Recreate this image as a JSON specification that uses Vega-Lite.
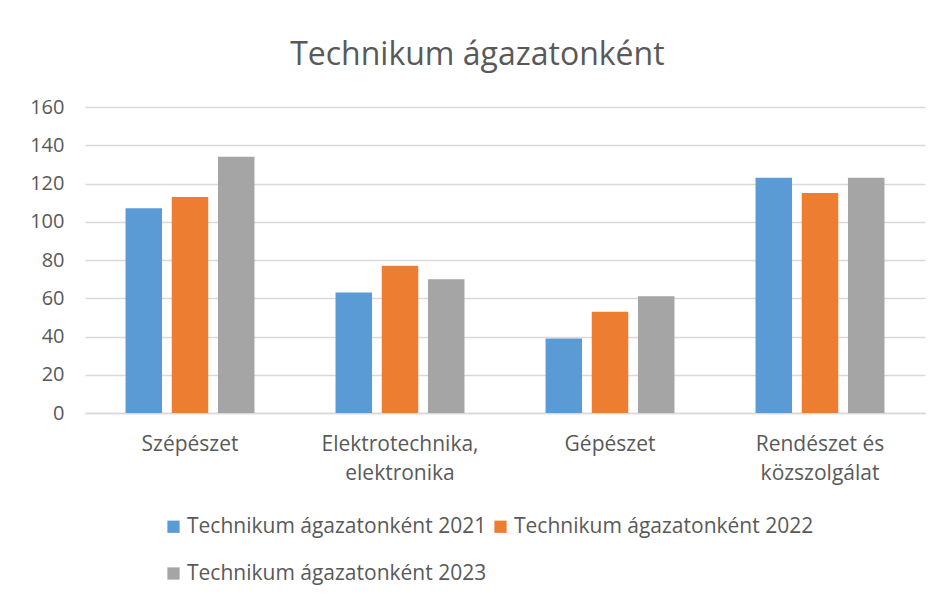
{
  "$schema": "https://vega.github.io/schema/vega-lite/v6.json",
  "autosize": "none",
  "width": 840,
  "height": 306,
  "padding": {"left": 85, "top": 107, "right": 19, "bottom": 187},
  "background": "white",
  "title": {
    "text": "Technikum ágazatonként",
    "fontSize": 32,
    "font": "Open Sans",
    "fontWeight": "normal",
    "color": "#595959",
    "anchor": "middle",
    "frame": "bounds",
    "offset": 25
  },
  "data": {
    "values": [
      {"cat": "Szépészet", "series": "Technikum ágazatonként 2021", "value": 107},
      {"cat": "Szépészet", "series": "Technikum ágazatonként 2022", "value": 113},
      {"cat": "Szépészet", "series": "Technikum ágazatonként 2023", "value": 134},
      {"cat": "Elektrotechnika, elektronika", "series": "Technikum ágazatonként 2021", "value": 63},
      {"cat": "Elektrotechnika, elektronika", "series": "Technikum ágazatonként 2022", "value": 77},
      {"cat": "Elektrotechnika, elektronika", "series": "Technikum ágazatonként 2023", "value": 70},
      {"cat": "Gépészet", "series": "Technikum ágazatonként 2021", "value": 39},
      {"cat": "Gépészet", "series": "Technikum ágazatonként 2022", "value": 53},
      {"cat": "Gépészet", "series": "Technikum ágazatonként 2023", "value": 61},
      {"cat": "Rendészet és közszolgálat", "series": "Technikum ágazatonként 2021", "value": 123},
      {"cat": "Rendészet és közszolgálat", "series": "Technikum ágazatonként 2022", "value": 115},
      {"cat": "Rendészet és közszolgálat", "series": "Technikum ágazatonként 2023", "value": 123}
    ]
  },
  "mark": {"type": "bar"},
  "encoding": {
    "x": {
      "field": "cat",
      "type": "nominal",
      "sort": null,
      "title": null,
      "scale": {"paddingInner": 0.386, "paddingOuter": 0.193},
      "axis": {
        "labelAngle": 0,
        "labelFontSize": 21,
        "labelFont": "Open Sans",
        "labelColor": "#595959",
        "labelPadding": 20,
        "labelLineHeight": 29,
        "ticks": false,
        "domainColor": "#d9d9d9",
        "domainWidth": 1.5,
        "labelExpr": "datum.value == 'Elektrotechnika, elektronika' ? ['Elektrotechnika,', 'elektronika'] : datum.value == 'Rendészet és közszolgálat' ? ['Rendészet és', 'közszolgálat'] : datum.value"
      }
    },
    "xOffset": {
      "field": "series",
      "type": "nominal",
      "scale": {"paddingInner": 0.21}
    },
    "y": {
      "field": "value",
      "type": "quantitative",
      "title": null,
      "scale": {"domain": [0, 160]},
      "axis": {
        "values": [0, 20, 40, 60, 80, 100, 120, 140, 160],
        "labelFontSize": 20,
        "labelFont": "Open Sans",
        "labelColor": "#595959",
        "labelPadding": 21,
        "ticks": false,
        "domain": false,
        "gridColor": "#d9d9d9",
        "gridWidth": 1.5
      }
    },
    "color": {
      "field": "series",
      "type": "nominal",
      "scale": {"range": ["#5b9bd5", "#ed7d31", "#a5a5a5"]},
      "legend": {
        "title": null,
        "orient": "none",
        "direction": "horizontal",
        "legendX": 78,
        "legendY": 409,
        "columns": 2,
        "columnPadding": 3,
        "rowPadding": 25,
        "symbolType": "square",
        "symbolSize": 150,
        "symbolStrokeWidth": 0,
        "labelFontSize": 21,
        "labelFont": "Open Sans",
        "labelColor": "#595959",
        "labelOffset": 3,
        "labelLimit": 400
      }
    }
  },
  "config": {"view": {"stroke": null}}
}
